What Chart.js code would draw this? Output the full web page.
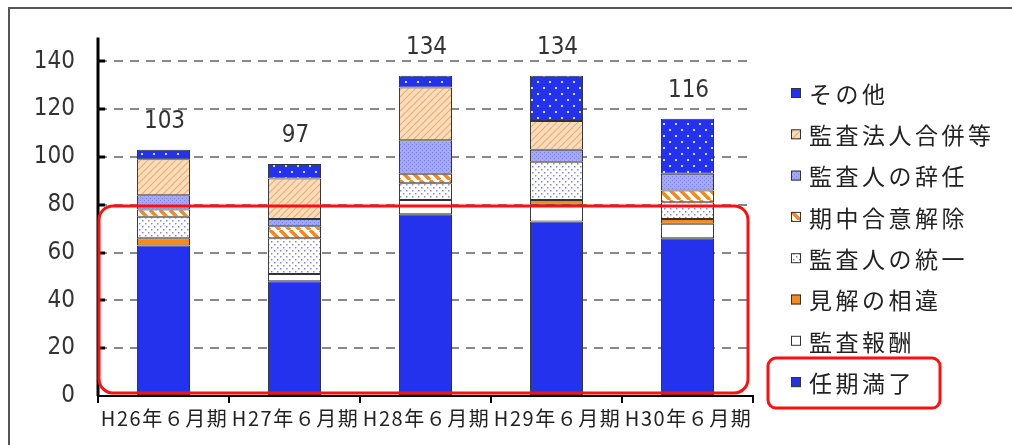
<!DOCTYPE html>
<html>
<head>
<meta charset="utf-8">
<script src="https://cdn.jsdelivr.net/npm/chart.js@4/dist/chart.umd.min.js"></script>
<style>
  html, body { margin: 0; padding: 0; background: #fff; }
  #wrap { position: relative; width: 1012px; height: 445px; }
</style>
</head>
<body>
<div id="wrap"><canvas id="chart" width="1012" height="445"></canvas></div>
<script>
// Categories and series
const categories = ['H26年６月期', 'H27年６月期', 'H28年６月期', 'H29年６月期', 'H30年６月期'];
const ninkiManryo = [63, 48, 76, 73, 66];   // 任期満了
const kansaHoshu  = [0, 3, 6, 7, 6];        // 監査報酬
const kenkaiSoi   = [3, 0, 0, 2, 2];        // 見解の相違
const toitsu      = [9, 15, 7, 16, 7];      // 監査人の統一
const kichuKaijo  = [3, 5, 4, 0, 5];        // 期中合意解除
const jinin       = [6, 3, 14, 5, 7];       // 監査人の辞任
const gappei      = [15, 17, 22, 12, 0];    // 監査法人合併等
const sonota      = [4, 6, 5, 19, 23];      // その他
const yTicks = [0, 20, 40, 60, 80, 100, 120, 140];

const FONT_JP = "'Noto Sans CJK JP', 'Noto Sans', sans-serif";
const FONT_NUM = "'DejaVu Sans Condensed', 'Liberation Sans Narrow', 'Liberation Sans', sans-serif";

// small canvas patterns for the hatched / dotted fills
function makePattern(size, draw) {
  const c = document.createElement('canvas');
  c.width = size; c.height = size;
  const g = c.getContext('2d');
  draw(g, size);
  return g.createPattern(c, 'repeat');
}

function stripes(bg, fg, width, dir) {
  return (g, s) => {
    g.fillStyle = bg; g.fillRect(0, 0, s, s);
    g.strokeStyle = fg; g.lineWidth = width;
    for (let k = -1; k <= 1; k++) {
      g.beginPath();
      if (dir === '\\') { g.moveTo(k * s, 0); g.lineTo(k * s + s, s); }
      else { g.moveTo(k * s, s); g.lineTo(k * s + s, 0); }
      g.stroke();
    }
  };
}

function dots(bg, fg, r, pts) {
  return (g, s) => {
    g.fillStyle = bg; g.fillRect(0, 0, s, s);
    g.fillStyle = fg;
    pts.forEach(p => g.fillRect(p[0], p[1], r, r));
  };
}

const BLUE = '#2432ee';
const FILLS = {
  ninki: BLUE,
  hoshu: '#ffffff',
  kenkai: '#f58b1c',
  toitsu: makePattern(6, dots('#ffffff', '#8189d8', 1.5, [[1, 1], [4, 4]])),
  kichu: makePattern(10, stripes('#ffffff', '#ee8a25', 3.5, '\\')),
  jinin: makePattern(4, dots('#a3a8f2', '#7d84e2', 1, [[0, 0], [2, 2]])),
  gappei: makePattern(7, stripes('#fcdcb9', '#e8ae75', 1.2, '/')),
  sonota: makePattern(12, dots(BLUE, '#d8dcff', 2, [[3, 3], [9, 9]]))
};

const nz = arr => arr.map(v => (v === 0 ? null : v));

function ds(label, data, fill) {
  return {
    label: label,
    data: nz(data),
    backgroundColor: fill,
    borderColor: '#333',
    borderWidth: 1,
    borderSkipped: false,
    barPercentage: 0.405,
    categoryPercentage: 1.0
  };
}

const datasets = [
  ds('任期満了', ninkiManryo, FILLS.ninki),
  ds('監査報酬', kansaHoshu, FILLS.hoshu),
  ds('見解の相違', kenkaiSoi, FILLS.kenkai),
  ds('監査人の統一', toitsu, FILLS.toitsu),
  ds('期中合意解除', kichuKaijo, FILLS.kichu),
  ds('監査人の辞任', jinin, FILLS.jinin),
  ds('監査法人合併等', gappei, FILLS.gappei),
  ds('その他', sonota, FILLS.sonota)
];

const seriesArrays = [ninkiManryo, kansaHoshu, kenkaiSoi, toitsu, kichuKaijo, jinin, gappei, sonota];
const totals = categories.map((c, i) => seriesArrays.reduce((s, a) => s + a[i], 0));

// frame lines behind the chart
const framePlugin = {
  id: 'frame',
  beforeDraw: (chart) => {
    const ctx = chart.ctx;
    ctx.save();
    ctx.fillStyle = '#fff';
    ctx.fillRect(0, 0, chart.width, chart.height);
    ctx.strokeStyle = '#555';
    ctx.lineWidth = 2;
    ctx.beginPath();
    ctx.moveTo(9, chart.height);
    ctx.lineTo(9, 8);
    ctx.lineTo(chart.width, 8);
    ctx.stroke();
    ctx.restore();
  }
};

// x labels, totals, inward y ticks, legend and the red highlight boxes
const overlayPlugin = {
  id: 'overlay',
  afterDraw: (chart) => {
    const ctx = chart.ctx;
    const x = chart.scales.x;
    const y = chart.scales.y;
    const area = chart.chartArea;
    ctx.save();

    // y axis line and inward ticks
    ctx.strokeStyle = '#000';
    ctx.lineWidth = 3;
    ctx.beginPath();
    ctx.moveTo(area.left, area.top);
    ctx.lineTo(area.left, area.bottom);
    ctx.stroke();
    yTicks.forEach(v => {
      if (v === 0) return;
      const py = Math.round(y.getPixelForValue(v));
      ctx.beginPath();
      ctx.moveTo(area.left, py);
      ctx.lineTo(area.left + 7, py);
      ctx.stroke();
    });

    // category labels
    ctx.fillStyle = '#222';
    ctx.font = '20px ' + FONT_JP;
    ctx.textAlign = 'center';
    ctx.textBaseline = 'middle';
    ctx.letterSpacing = '1.5px';
    categories.forEach((c, i) => {
      ctx.fillText(c, x.getPixelForValue(i) + 1, 418);
    });

    // totals above bars
    ctx.letterSpacing = '0px';
    ctx.fillStyle = '#333';
    ctx.font = '24px ' + FONT_NUM;
    totals.forEach((t, i) => {
      ctx.fillText(String(t), x.getPixelForValue(i) + 1, y.getPixelForValue(t) - 28);
    });

    // legend (top = last dataset)
    ctx.textAlign = 'left';
    ctx.font = '23px ' + FONT_JP;
    ctx.letterSpacing = '3.5px';
    const legendItems = datasets.slice().reverse();
    legendItems.forEach((d, k) => {
      const cy = 93 + k * 41.3;
      ctx.fillStyle = d.backgroundColor;
      ctx.fillRect(791, cy - 5, 10, 10);
      ctx.strokeStyle = '#333';
      ctx.lineWidth = 1;
      ctx.strokeRect(791.5, cy - 4.5, 9, 9);
      ctx.fillStyle = '#222';
      ctx.fillText(d.label, 809, cy + 1);
    });

    // red highlight boxes
    ctx.strokeStyle = '#ff1010';
    ctx.lineWidth = 3;
    ctx.beginPath();
    ctx.roundRect(area.left + 1, y.getPixelForValue(79.5), area.right - area.left - 6,
      y.getPixelForValue(0) - 3 - y.getPixelForValue(79.5), 14);
    ctx.stroke();
    const ly = 93 + 7 * 41.3;
    ctx.beginPath();
    ctx.roundRect(768, ly - 24, 172, 50, 8);
    ctx.stroke();

    ctx.restore();
  }
};

new Chart(document.getElementById('chart').getContext('2d'), {
  type: 'bar',
  data: { labels: categories, datasets: datasets },
  options: {
    responsive: false,
    animation: false,
    layout: { padding: { left: 0, top: 35, right: 259, bottom: 0 } },
    plugins: {
      legend: { display: false },
      tooltip: { enabled: false }
    },
    scales: {
      x: {
        stacked: true,
        afterFit: (s) => { s.height = 49; },
        border: { display: true, color: '#000', width: 2 },
        grid: {
          display: true,
          offset: true,
          drawOnChartArea: false,
          drawTicks: true,
          tickLength: 7,
          color: '#000',
          lineWidth: 2
        },
        ticks: { display: false }
      },
      y: {
        stacked: true,
        min: 0,
        max: 150,
        afterBuildTicks: (s) => { s.ticks = yTicks.map(v => ({ value: v })); },
        afterFit: (s) => { s.width = 98; },
        border: { display: false, dash: [9, 7] },
        grid: {
          drawTicks: false,
          color: (c) => (c.tick && c.tick.value === 0 ? 'rgba(0,0,0,0)' : '#888'),
          lineWidth: 2
        },
        ticks: {
          padding: 23,
          color: '#333',
          font: { family: FONT_NUM, size: 24 }
        }
      }
    }
  },
  plugins: [framePlugin, overlayPlugin]
});
</script>
</body>
</html>
